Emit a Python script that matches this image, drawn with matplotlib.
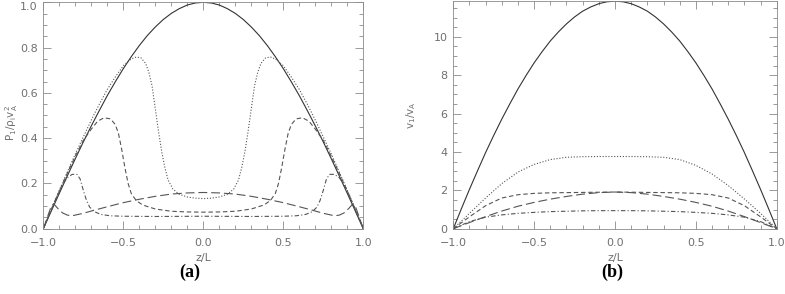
import numpy as np
import matplotlib
matplotlib.use('Agg')
import matplotlib.pyplot as plt
from matplotlib.ticker import MultipleLocator, FuncFormatter

plt.rcParams['font.family'] = ['DejaVu Sans']
plt.rcParams['mathtext.fontset'] = 'dejavusans'

# ---- panel (a): P1 / rho_i vA^2 against z/L ----
z_grid = np.round(np.arange(-1.0, 1.0001, 0.05), 2)

a_solid = [0, 0.078, 0.156, 0.233, 0.309, 0.383, 0.454, 0.522, 0.588, 0.649, 0.707,
           0.760, 0.809, 0.853, 0.891, 0.924, 0.951, 0.972, 0.988, 0.997, 1.0,
           0.997, 0.988, 0.972, 0.951, 0.924, 0.891, 0.853, 0.809, 0.760, 0.707,
           0.649, 0.588, 0.522, 0.454, 0.383, 0.309, 0.233, 0.156, 0.078, 0]

a_dot_z = [-1, -0.95, -0.9, -0.85, -0.8, -0.75, -0.7, -0.65, -0.6, -0.55, -0.5, -0.45,
           -0.42, -0.39, -0.36, -0.34, -0.32, -0.30, -0.28, -0.26, -0.24, -0.22, -0.19,
           -0.15, -0.1, -0.05, 0,
           0.05, 0.1, 0.15, 0.19, 0.22, 0.24, 0.26, 0.28, 0.30, 0.32, 0.34, 0.36, 0.39,
           0.42, 0.45, 0.5, 0.55, 0.6, 0.65, 0.7, 0.75, 0.8, 0.85, 0.9, 0.95, 1]
a_dot = [0, 0.085, 0.17, 0.25, 0.33, 0.405, 0.48, 0.55, 0.615, 0.67, 0.72, 0.75,
         0.758, 0.755, 0.73, 0.69, 0.63, 0.53, 0.43, 0.34, 0.27, 0.215, 0.175,
         0.152, 0.14, 0.135, 0.133,
         0.135, 0.14, 0.152, 0.175, 0.215, 0.27, 0.34, 0.43, 0.53, 0.63, 0.69, 0.73, 0.755,
         0.758, 0.75, 0.72, 0.67, 0.615, 0.55, 0.48, 0.405, 0.33, 0.25, 0.17, 0.085, 0]

a_dash_z = [-1, -0.95, -0.9, -0.85, -0.8, -0.75, -0.7, -0.66, -0.62, -0.58, -0.55, -0.53,
            -0.51, -0.49, -0.47, -0.45, -0.42, -0.38, -0.3, -0.2, -0.1, 0,
            0.1, 0.2, 0.3, 0.38, 0.42, 0.45, 0.47, 0.49, 0.51, 0.53, 0.55, 0.58, 0.62,
            0.66, 0.7, 0.75, 0.8, 0.85, 0.9, 0.95, 1]
a_dash = [0, 0.085, 0.165, 0.245, 0.32, 0.39, 0.44, 0.475, 0.49, 0.485, 0.46, 0.42,
          0.35, 0.27, 0.2, 0.155, 0.125, 0.105, 0.087, 0.077, 0.074, 0.073,
          0.074, 0.077, 0.087, 0.105, 0.125, 0.155, 0.2, 0.27, 0.35, 0.42, 0.46, 0.485, 0.49,
          0.475, 0.44, 0.39, 0.32, 0.245, 0.165, 0.085, 0]

a_dd_z = [-1, -0.96, -0.92, -0.88, -0.85, -0.82, -0.79, -0.77, -0.75, -0.73, -0.71, -0.68,
          -0.64, -0.58, -0.5, -0.3, 0,
          0.3, 0.5, 0.58, 0.64, 0.68, 0.71, 0.73, 0.75, 0.77, 0.79, 0.82, 0.85, 0.88,
          0.92, 0.96, 1]
a_dd = [0, 0.065, 0.135, 0.195, 0.225, 0.24, 0.24, 0.22, 0.17, 0.125, 0.095, 0.075,
        0.063, 0.057, 0.055, 0.054, 0.055,
        0.054, 0.055, 0.057, 0.063, 0.075, 0.095, 0.125, 0.17, 0.22, 0.24, 0.24, 0.225, 0.195,
        0.135, 0.065, 0]

a_long_z = [-1, -0.97, -0.95, -0.935, -0.91, -0.88, -0.85, -0.82, -0.75, -0.69, -0.6, -0.5,
            -0.4, -0.3, -0.2, -0.1, 0,
            0.1, 0.2, 0.3, 0.4, 0.5, 0.6, 0.69, 0.75, 0.82, 0.85, 0.88, 0.91, 0.935,
            0.95, 0.97, 1]
a_long = [0, 0.06, 0.1, 0.11, 0.09, 0.07, 0.06, 0.057, 0.068, 0.08, 0.097, 0.115,
          0.13, 0.143, 0.153, 0.158, 0.16,
          0.158, 0.153, 0.143, 0.13, 0.115, 0.097, 0.08, 0.068, 0.057, 0.06, 0.07, 0.09, 0.11,
          0.1, 0.06, 0]

# ---- panel (b): v1 / vA against z/L ----
z_b = np.round(np.arange(-1.0, 1.0001, 0.05), 2)
b_solid = [0, 1.04, 2.05, 3.02, 3.97, 4.86, 5.71, 6.51, 7.28, 7.98, 8.64, 9.23, 9.78,
           10.25, 10.67, 11.03, 11.33, 11.55, 11.72, 11.82, 11.85,
           11.82, 11.72, 11.55, 11.33, 11.03, 10.67, 10.25, 9.78, 9.23, 8.64, 7.98,
           7.28, 6.51, 5.71, 4.86, 3.97, 3.02, 2.05, 1.04, 0]

z_b10 = np.round(np.arange(-1.0, 1.0001, 0.1), 1)
b_dot = [0, 0.8, 1.6, 2.35, 2.95, 3.35, 3.6, 3.72, 3.75, 3.76, 3.76,
         3.76, 3.75, 3.72, 3.6, 3.3, 2.85, 2.25, 1.55, 0.8, 0]
b_dash = [0, 0.62, 1.2, 1.6, 1.77, 1.84, 1.87, 1.88, 1.89, 1.9, 1.91,
          1.9, 1.89, 1.88, 1.87, 1.84, 1.77, 1.6, 1.2, 0.62, 0]
b_long = [0, 0.32, 0.63, 0.92, 1.17, 1.37, 1.54, 1.68, 1.8, 1.88, 1.91,
          1.88, 1.8, 1.68, 1.54, 1.37, 1.17, 0.92, 0.63, 0.32, 0]
b_dd = [0, 0.37, 0.6, 0.72, 0.8, 0.85, 0.89, 0.91, 0.93, 0.94, 0.94,
        0.94, 0.93, 0.91, 0.89, 0.85, 0.8, 0.72, 0.6, 0.37, 0]

a_yticks = [0.0, 0.2, 0.4, 0.6, 0.8, 1.0]

text_col = '#707070'
axis_col = '#8a8a8a'
ls_dot = (0, (1, 1.6))
ls_dash = (0, (4, 2.5))
ls_long = (0, (8, 3.5))
ls_dd = (0, (4, 2, 1, 2))


def fmt1(v, pos):
    return ('%.1f' % v).replace('-', '\u2212')


fig = plt.figure(figsize=(7.85, 2.94), dpi=100)
ax1 = fig.add_axes([43.3 / 785, (294 - 228.7) / 294, 320 / 785, 226.4 / 294])
ax2 = fig.add_axes([453.3 / 785, (294 - 228.7) / 294, 323.4 / 785, 227.7 / 294])

ax1.plot(z_grid, a_solid, color='#333333', lw=0.8, ls='-')
ax1.plot(a_dot_z, a_dot, color='#555555', lw=0.8, ls=ls_dot)
ax1.plot(a_dash_z, a_dash, color='#555555', lw=0.8, ls=ls_dash)
ax1.plot(a_long_z, a_long, color='#555555', lw=0.8, ls=ls_long)
ax1.plot(a_dd_z, a_dd, color='#555555', lw=0.8, ls=ls_dd)
ax1.set_xlim(-1, 1)
ax1.set_ylim(0, 1.0)
ax1.set_yticks(a_yticks)
ax1.set_yticklabels(['%.1f' % v for v in a_yticks])
ax1.get_yticklabels()[-1].set_verticalalignment('top')
ax1.yaxis.set_minor_locator(MultipleLocator(0.05))
ax1.set_ylabel(r'$\mathregular{P_1/\rho_i v_A^{2}}$', color=text_col, fontsize=7.5)
ax1.yaxis.set_label_coords(-0.072, 0.47)

ax2.plot(z_b, b_solid, color='#333333', lw=0.8, ls='-')
ax2.plot(z_b10, b_dot, color='#555555', lw=0.8, ls=ls_dot)
ax2.plot(z_b10, b_dash, color='#555555', lw=0.8, ls=ls_dash)
ax2.plot(z_b10, b_long, color='#555555', lw=0.8, ls=ls_long)
ax2.plot(z_b10, b_dd, color='#555555', lw=0.8, ls=ls_dd)
ax2.set_xlim(-1, 1)
ax2.set_ylim(0, 11.86)
ax2.yaxis.set_major_locator(MultipleLocator(2))
ax2.yaxis.set_minor_locator(MultipleLocator(0.5))
ax2.set_ylabel(r'$\mathregular{v_1/v_A}$', color=text_col, fontsize=7.5)
ax2.yaxis.set_label_coords(-0.108, 0.5)

for ax in (ax1, ax2):
    ax.xaxis.set_major_locator(MultipleLocator(0.5))
    ax.xaxis.set_minor_locator(MultipleLocator(0.1))
    ax.xaxis.set_major_formatter(FuncFormatter(fmt1))
    ax.set_xlabel('z/L', color=text_col, fontsize=8, labelpad=3)
    ax.tick_params(which='both', direction='in', top=True, right=True,
                   color=axis_col, width=0.6, labelcolor=text_col, labelsize=8)
    ax.tick_params(which='major', length=6)
    ax.tick_params(which='minor', length=3)
    ax.tick_params(axis='x', pad=7)
    ax.tick_params(axis='y', pad=4)
    for s in ax.spines.values():
        s.set_color(axis_col)
        s.set_linewidth(0.6)

fig.text(190 / 785, 1 - 272 / 294, '(a)', ha='center', va='center',
         fontsize=13, fontweight='bold', family='Liberation Serif')
fig.text(612 / 785, 1 - 272 / 294, '(b)', ha='center', va='center',
         fontsize=13, fontweight='bold', family='Liberation Serif')

fig.savefig('out.png', dpi=100)
